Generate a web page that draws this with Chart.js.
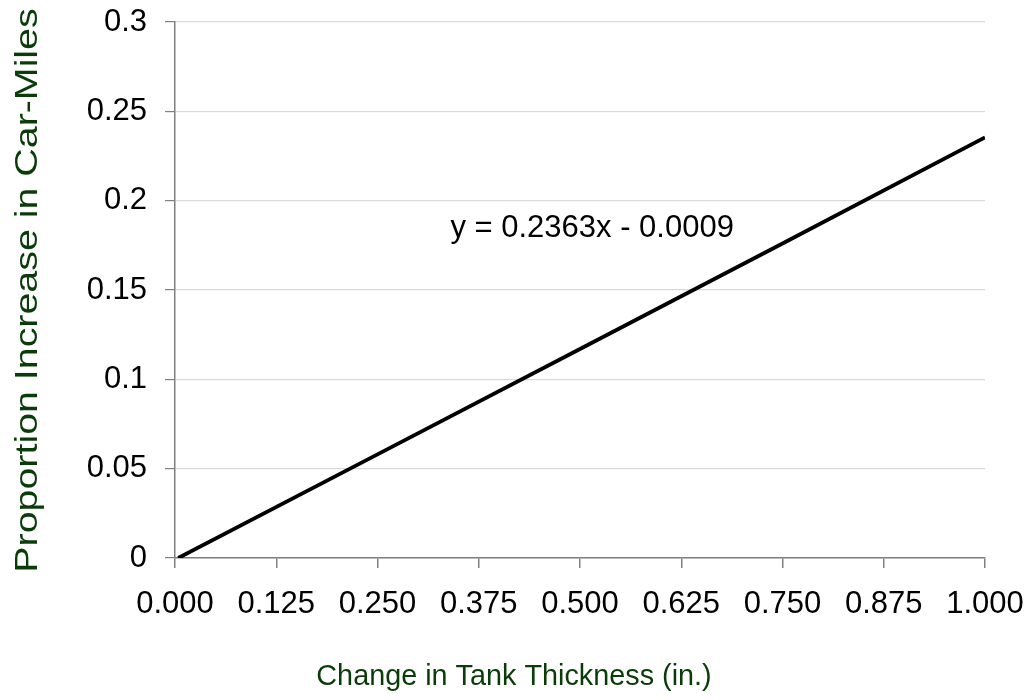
<!DOCTYPE html>
<html>
<head>
<meta charset="utf-8">
<script src="https://cdn.jsdelivr.net/npm/chart.js@4.4.1/dist/chart.umd.min.js"></script>
<style>
  html, body { margin: 0; padding: 0; background: #ffffff; }
  #wrap { width: 1028px; height: 700px; }
</style>
</head>
<body>
<div id="wrap"><canvas id="c" width="1028" height="700"></canvas></div>
<script>
// ---- data ----
const thicknessChange = [0.004, 0.25, 0.5, 0.75, 1.0];
const carMilesIncrease = [0.0, 0.058, 0.117, 0.176, 0.2354];
const xTickLabels = ["0.000", "0.125", "0.250", "0.375", "0.500", "0.625", "0.750", "0.875", "1.000"];
const yTickLabels = ["0", "0.05", "0.1", "0.15", "0.2", "0.25", "0.3"];
const xTitle = "Change in Tank Thickness (in.)";
const yTitle = "Proportion Increase in Car-Miles";
const equationText = "y = 0.2363x - 0.0009";
const equationAt = { x: 0.515, y: 0.1797 };

const FONT = "'Liberation Sans', Arial, sans-serif";
const TITLE_COLOR = "#0a3c0a";

const points = thicknessChange.map((x, i) => ({ x: x, y: carMilesIncrease[i] }));

const textPlugin = {
  id: 'textPlugin',
  afterDraw(chart) {
    const ctx = chart.ctx;
    const xs = chart.scales.x, ys = chart.scales.y;
    ctx.save();
    ctx.textAlign = 'center';
    ctx.textBaseline = 'alphabetic';
    // equation
    ctx.fillStyle = '#000000';
    ctx.font = "31px " + FONT;
    ctx.fillText(equationText, xs.getPixelForValue(equationAt.x), ys.getPixelForValue(equationAt.y));
    // x title (centered on canvas)
    ctx.fillStyle = TITLE_COLOR;
    ctx.font = "30px " + FONT;
    ctx.save();
    ctx.translate(chart.width / 2, 685);
    ctx.scale(0.96, 1);
    ctx.fillText(xTitle, 0, 0);
    ctx.restore();
    // y title (rotated, stretched along its length like the reference)
    ctx.font = "32px " + FONT;
    ctx.translate(37, 290.5);
    ctx.rotate(-Math.PI / 2);
    ctx.scale(1.23, 1);
    ctx.fillText(yTitle, 0, 0);
    ctx.restore();
  }
};

new Chart(document.getElementById('c'), {
  type: 'line',
  data: {
    datasets: [{
      data: points,
      borderColor: '#000000',
      borderWidth: 3.8,
      pointRadius: 0,
      fill: false,
      tension: 0
    }]
  },
  options: {
    responsive: false,
    animation: false,
    events: [],
    layout: { padding: { top: 22, right: 43, left: 0, bottom: 0 } },
    plugins: { legend: { display: false }, tooltip: { enabled: false } },
    scales: {
      x: {
        type: 'linear',
        min: 0, max: 1,
        afterFit(s) { s.height = 142; s.paddingLeft = 0; s.paddingRight = 0; },
        afterBuildTicks(s) { s.ticks = xTickLabels.map(t => ({ value: parseFloat(t) })); },
        ticks: {
          callback: (v, i) => xTickLabels[i],
          color: '#000000',
          font: { family: FONT, size: 31 },
          padding: 18,
          maxRotation: 0,
          autoSkip: false
        },
        grid: { drawOnChartArea: false, tickColor: '#808080', tickLength: 10, lineWidth: 1.5 },
        border: { color: '#808080', width: 1.5 }
      },
      y: {
        min: 0, max: 0.3,
        afterFit(s) { s.width = 175; s.paddingTop = 0; s.paddingBottom = 0; },
        afterBuildTicks(s) { s.ticks = yTickLabels.map(t => ({ value: parseFloat(t) })); },
        ticks: {
          callback: (v, i) => yTickLabels[i],
          color: '#000000',
          font: { family: FONT, size: 31 },
          padding: 18,
          autoSkip: false
        },
        grid: { color: '#d9d9d9', lineWidth: 1.2, tickColor: '#808080', tickLength: 10 },
        border: { color: '#808080', width: 1.5 }
      }
    }
  },
  plugins: [textPlugin]
});
</script>
</body>
</html>
